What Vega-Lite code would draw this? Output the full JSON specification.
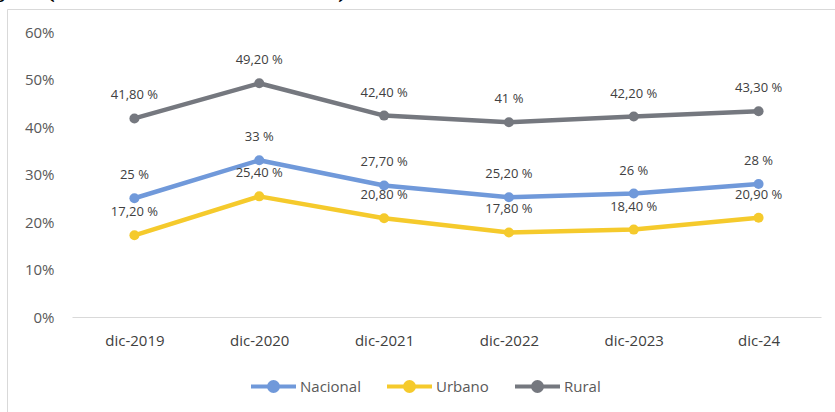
{
  "$schema": "https://vega.github.io/schema/vega-lite/v6.json",
  "width": 835,
  "height": 420,
  "autosize": "none",
  "padding": {"left": 7, "top": 9, "right": 0, "bottom": 0},
  "background": "white",
  "title": {
    "text": "jes (diciembre 2019-2024)",
    "anchor": "start",
    "frame": "group",
    "dx": -8,
    "dy": 19,
    "offset": 0,
    "baseline": "alphabetic",
    "font": "Liberation Serif",
    "fontSize": 33,
    "fontWeight": "normal",
    "color": "#000000"
  },
  "data": {
    "values": [
      {"Periodo": "dic-2019", "Serie": "Nacional", "Valor": 0.25, "Etiqueta": "25 %"},
      {"Periodo": "dic-2020", "Serie": "Nacional", "Valor": 0.33, "Etiqueta": "33 %"},
      {"Periodo": "dic-2021", "Serie": "Nacional", "Valor": 0.277, "Etiqueta": "27,70 %"},
      {"Periodo": "dic-2022", "Serie": "Nacional", "Valor": 0.252, "Etiqueta": "25,20 %"},
      {"Periodo": "dic-2023", "Serie": "Nacional", "Valor": 0.26, "Etiqueta": "26 %"},
      {"Periodo": "dic-24", "Serie": "Nacional", "Valor": 0.28, "Etiqueta": "28 %"},
      {"Periodo": "dic-2019", "Serie": "Urbano", "Valor": 0.172, "Etiqueta": "17,20 %"},
      {"Periodo": "dic-2020", "Serie": "Urbano", "Valor": 0.254, "Etiqueta": "25,40 %"},
      {"Periodo": "dic-2021", "Serie": "Urbano", "Valor": 0.208, "Etiqueta": "20,80 %"},
      {"Periodo": "dic-2022", "Serie": "Urbano", "Valor": 0.178, "Etiqueta": "17,80 %"},
      {"Periodo": "dic-2023", "Serie": "Urbano", "Valor": 0.184, "Etiqueta": "18,40 %"},
      {"Periodo": "dic-24", "Serie": "Urbano", "Valor": 0.209, "Etiqueta": "20,90 %"},
      {"Periodo": "dic-2019", "Serie": "Rural", "Valor": 0.418, "Etiqueta": "41,80 %"},
      {"Periodo": "dic-2020", "Serie": "Rural", "Valor": 0.492, "Etiqueta": "49,20 %"},
      {"Periodo": "dic-2021", "Serie": "Rural", "Valor": 0.424, "Etiqueta": "42,40 %"},
      {"Periodo": "dic-2022", "Serie": "Rural", "Valor": 0.41, "Etiqueta": "41 %"},
      {"Periodo": "dic-2023", "Serie": "Rural", "Valor": 0.422, "Etiqueta": "42,20 %"},
      {"Periodo": "dic-24", "Serie": "Rural", "Valor": 0.433, "Etiqueta": "43,30 %"}
    ]
  },
  "encoding": {
    "x": {
      "field": "Periodo",
      "type": "ordinal",
      "sort": null,
      "title": null,
      "scale": {"type": "point", "range": [65, 814], "padding": 0.5},
      "axis": {
        "orient": "bottom",
        "offset": -112,
        "domainColor": "#d9d9d9",
        "domainWidth": 1,
        "ticks": false,
        "grid": false,
        "labelPadding": 16,
        "labelFont": "Open Sans",
        "labelFontSize": 15,
        "labelColor": "#404040",
        "labelAngle": 0
      }
    },
    "y": {
      "field": "Valor",
      "type": "quantitative",
      "title": null,
      "scale": {"domain": [0, 0.6], "range": [308, 23], "nice": false},
      "axis": {
        "orient": "left",
        "offset": -65,
        "values": [0, 0.1, 0.2, 0.3, 0.4, 0.5, 0.6],
        "format": ".0%",
        "domain": false,
        "ticks": false,
        "grid": false,
        "labelPadding": 18,
        "labelFont": "Open Sans",
        "labelFontSize": 15,
        "labelColor": "#595959"
      }
    },
    "color": {
      "field": "Serie",
      "type": "nominal",
      "scale": {"domain": ["Nacional", "Urbano", "Rural"], "range": ["#7099DA", "#F5CA2C", "#75787F"]},
      "legend": {
        "title": null,
        "orient": "none",
        "direction": "horizontal",
        "legendX": 242,
        "legendY": 353,
        "symbolType": "M-1,0H1M0.2,0A0.2,0.2,0,1,1,-0.2,0A0.2,0.2,0,1,1,0.2,0Z",
        "symbolSize": 2025,
        "symbolStrokeWidth": 4,
        "labelFont": "Open Sans",
        "labelFontSize": 15,
        "labelColor": "#595959",
        "labelOffset": 2,
        "columnPadding": 18,
        "encode": {
          "symbols": {"update": {"stroke": {"scale": "color", "field": "value"}, "fill": {"scale": "color", "field": "value"}, "strokeWidth": {"value": 4}, "opacity": {"value": 1}}}
        }
      }
    }
  },
  "layer": [
    {
      "mark": {"type": "line", "strokeWidth": 4.5, "strokeCap": "round", "strokeJoin": "round"}
    },
    {
      "mark": {"type": "point", "filled": true, "size": 100, "opacity": 1}
    },
    {
      "mark": {"type": "text", "dy": -23, "font": "Open Sans", "fontSize": 13, "baseline": "middle"},
      "encoding": {
        "text": {"field": "Etiqueta", "type": "nominal"},
        "color": {"value": "#404040"}
      }
    }
  ],
  "config": {
    "view": {"stroke": "#d9d9d9", "strokeWidth": 1}
  }
}
